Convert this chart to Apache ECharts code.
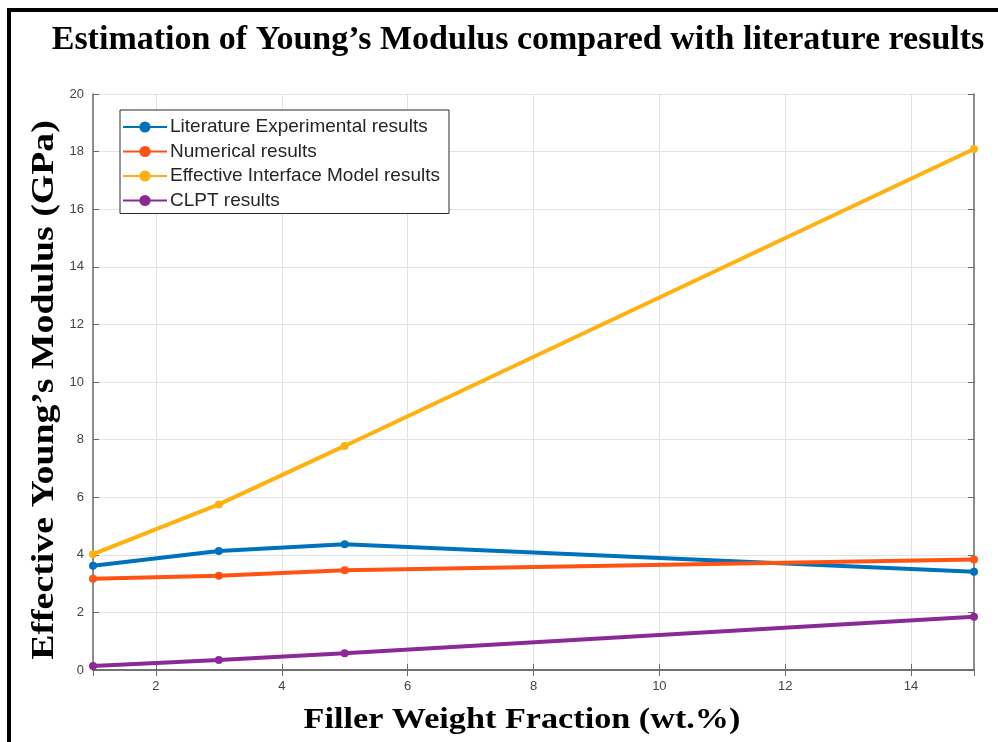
<!DOCTYPE html>
<html>
<head>
<meta charset="utf-8">
<script src="https://cdn.jsdelivr.net/npm/echarts@6/dist/echarts.min.js"></script>
<style>html,body{margin:0;padding:0;background:#fff}#c{width:998px;height:742px}</style>
</head>
<body>
<div id="c"></div>
<script>
const xValues = [1, 3, 5, 15];
const literature = [3.62, 4.13, 4.37, 3.41];
const numerical = [3.17, 3.27, 3.46, 3.84];
const interfaceModel = [4.02, 5.75, 7.78, 18.09];
const clpt = [0.14, 0.35, 0.58, 1.85];
const seriesNames = ['Literature Experimental results', 'Numerical results', 'Effective Interface Model results', 'CLPT results'];
const colors = ['#0072BD', '#FF5314', '#FFB10F', '#8B2A96'];
const titleText = 'Estimation of Young\u2019s Modulus compared with literature results';
const yTitle = 'Effective Young\u2019s Modulus (GPa)';
const xTitle = 'Filler Weight Fraction (wt.%)';

const chart = echarts.init(document.getElementById('c'), null, {renderer: 'canvas'});
const allData = [literature, numerical, interfaceModel, clpt];
const series = allData.map((d, i) => ({
  name: seriesNames[i],
  type: 'line',
  xAxisIndex: 0,
  yAxisIndex: 0,
  data: xValues.map((x, j) => [x, d[j]]),
  symbol: 'circle',
  symbolSize: 8,
  lineStyle: {width: 4, color: colors[i]},
  itemStyle: {color: colors[i]},
  z: 3 + i
}));

const tickLabelStyle = {color: '#444', fontSize: 13, fontFamily: 'Liberation Sans, Arial, sans-serif'};
const axisLineStyle = {lineStyle: {color: '#6b6b6b', width: 1.5}};
const gridLine = {show: true, lineStyle: {color: '#e3e3e3', width: 1}};
const serifBold = '"Liberation Serif", "Times New Roman", serif';

chart.setOption({
  animation: false,
  backgroundColor: '#fff',
  legend: {
    orient: 'vertical',
    left: 120, top: 110,
    data: seriesNames,
    backgroundColor: '#fff',
    borderColor: '#2b2b2b',
    borderWidth: 1,
    borderRadius: 0,
    padding: [7, 9, 3, 2],
    itemGap: 4.5,
    itemWidth: 44,
    itemHeight: 14,
    textStyle: {fontSize: 19, lineHeight: 20, color: '#262626', fontFamily: 'Liberation Sans, Arial, sans-serif', padding: [0, 0, 0, -2]}
  },
  grid: {left: 93, right: 24, top: 94, bottom: 72, containLabel: false},
  xAxis: [{
    type: 'value', min: 1, max: 15, splitNumber: 7, minInterval: 2, maxInterval: 2,
    axisLine: axisLineStyle,
    axisTick: {show: true, inside: true, length: 6, lineStyle: {color: '#6b6b6b'}},
    axisLabel: Object.assign({showMinLabel: false, showMaxLabel: false, margin: 10}, tickLabelStyle),
    splitLine: gridLine
  }, {
    type: 'value', min: 1, max: 15, splitNumber: 7, minInterval: 2, maxInterval: 2, position: 'top',
    axisLine: axisLineStyle,
    axisTick: {show: true, inside: true, length: 6, lineStyle: {color: '#6b6b6b'}},
    axisLabel: {show: false},
    splitLine: {show: false}
  }],
  yAxis: [{
    type: 'value', min: 0, max: 20, interval: 2,
    axisLine: {show: true, lineStyle: {color: '#6b6b6b', width: 1.5}},
    axisTick: {show: true, inside: true, length: 6, lineStyle: {color: '#6b6b6b'}},
    axisLabel: Object.assign({margin: 9}, tickLabelStyle),
    splitLine: gridLine
  }, {
    type: 'value', min: 0, max: 20, interval: 2, position: 'right',
    axisLine: {show: true, lineStyle: {color: '#6b6b6b', width: 1.5}},
    axisTick: {show: true, inside: true, length: 6, lineStyle: {color: '#6b6b6b'}},
    axisLabel: {show: false},
    splitLine: {show: false}
  }],
  graphic: [
    {type: 'rect', shape: {x: 9, y: 10, width: 1100, height: 900}, style: {fill: 'none', stroke: '#000', lineWidth: 4}, silent: true, z: 100},
    {type: 'text', x: 518, y: 40, scaleX: 1.03, style: {text: titleText, fill: '#000', font: 'bold 33px ' + serifBold, align: 'center', verticalAlign: 'middle'}},
    {type: 'text', x: 522, y: 720, scaleX: 1.14, style: {text: xTitle, fill: '#000', font: 'bold 30px ' + serifBold, align: 'center', verticalAlign: 'middle'}},
    {type: 'text', x: 45, y: 390, rotation: Math.PI / 2, scaleX: 1.22, style: {text: yTitle, fill: '#000', font: 'bold 31px ' + serifBold, align: 'center', verticalAlign: 'middle'}}
  ],
  series: series
});
</script>
</body>
</html>
